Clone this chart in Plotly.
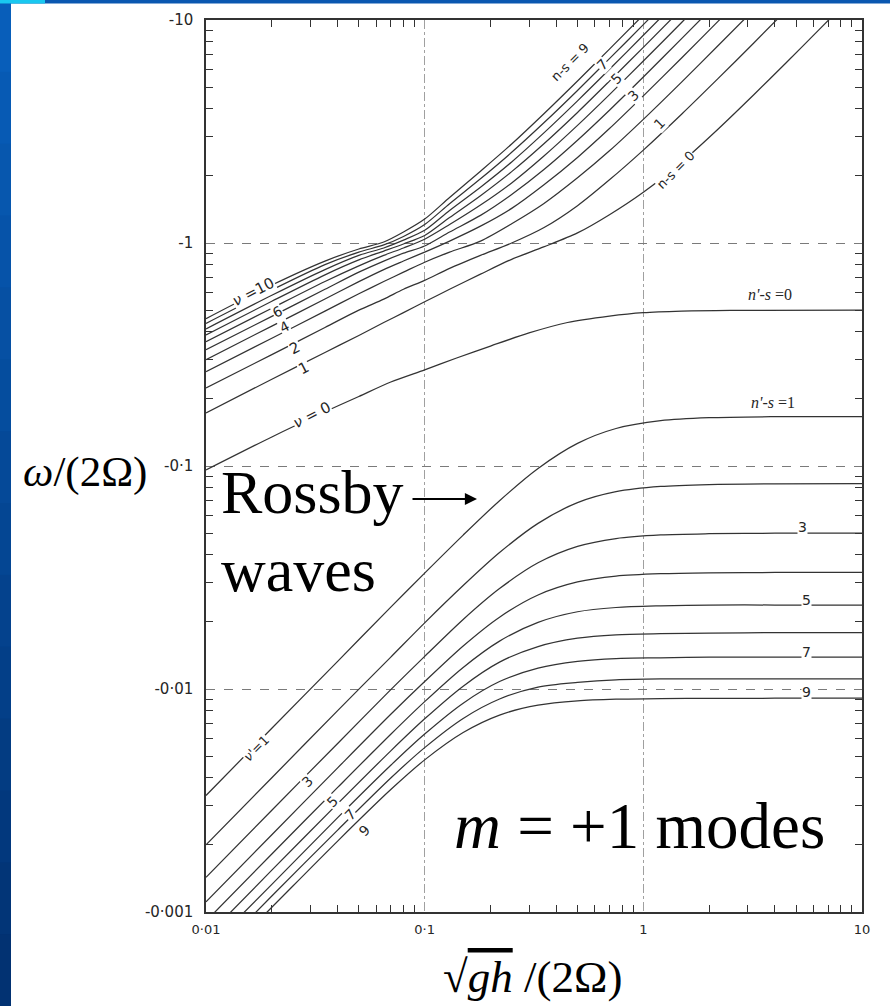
import plotly.graph_objects as go

# plot area in page pixels (used only to place text)
L, R, T, B = 206, 862, 20, 912


def fx(p):
    return (p - L) / (R - L)


def fy(p):
    return (B - p) / (B - T)


# --- gravity-wave branch, nu = 1..10 (|omega|) ---
x_grav = [0.01, 0.02, 0.035, 0.05, 0.065, 0.08, 0.1, 0.13, 0.18, 0.25,
          0.35, 0.5, 0.7, 1.0, 1.5, 2.2, 3.2, 4.5, 6.5, 10]
nu1 = [0.173, 0.245, 0.323, 0.385, 0.44, 0.487, 0.545, 0.62, 0.725, 0.845,
       0.96, 1.11, 1.34, 1.69, 2.31, 3.245, 4.62, 6.43, 9.24, 14.17]
nu2 = [0.224, 0.316, 0.418, 0.5, 0.56, 0.62, 0.68, 0.77, 0.88, 1.0,
       1.17, 1.47, 1.92, 2.61, 3.79, 5.47, 7.89, 11.06]
nu3 = [0.265, 0.374, 0.495, 0.592, 0.672, 0.74, 0.82, 0.91, 1.02, 1.22,
       1.5, 1.96, 2.59, 3.585, 5.28, 7.68, 11.12]
nu4 = [0.3, 0.424, 0.561, 0.671, 0.76, 0.83, 0.91, 1.02, 1.19, 1.43,
       1.82, 2.42, 3.26, 4.57, 6.77, 9.88, 14.3]
nu5 = [0.332, 0.469, 0.62, 0.74, 0.83, 0.9, 0.97, 1.12, 1.33, 1.65,
       2.13, 2.89, 3.94, 5.55, 8.27, 12.08]
nu6 = [0.361, 0.51, 0.672, 0.79, 0.88, 0.95, 1.04, 1.21, 1.48, 1.86,
       2.45, 3.37, 4.63, 6.55, 9.77, 14.3]
nu7 = [0.387, 0.548, 0.72, 0.84, 0.92, 0.99, 1.08, 1.3, 1.63, 2.09,
       2.78, 3.85, 5.32, 7.54, 11.26]
nu8 = [0.412, 0.583, 0.76, 0.88, 0.95, 1.03, 1.14, 1.4, 1.78, 2.31,
       3.11, 4.34, 6.01, 8.54, 12.76]
nu9 = [0.436, 0.616, 0.8, 0.91, 0.98, 1.07, 1.21, 1.5, 1.94, 2.55,
       3.45, 4.83, 6.71, 9.53, 14.3]
nu10 = [0.458, 0.648, 0.83, 0.94, 1.01, 1.12, 1.28, 1.6, 2.1, 2.78,
        3.79, 5.33, 7.4, 10.53]

# --- nu = 0 curve, ending on n'-s = 0 ---
x_nu0 = [0.01, 0.02, 0.035, 0.05, 0.07, 0.1, 0.14, 0.2, 0.3, 0.45,
         0.7, 1.0, 1.5, 2.5, 10]
nu0 = [0.096, 0.135, 0.175, 0.205, 0.238, 0.27, 0.305, 0.345, 0.395, 0.44,
       0.47, 0.487, 0.495, 0.499, 0.5]

# --- Rossby branch, nu' = 1..9 -> n'-s = 1..9 ---
x_ross = [0.01, 0.02, 0.04, 0.07, 0.1, 0.15, 0.22, 0.33, 0.5, 0.75,
          1.2, 2, 4, 10]
ross1 = [0.00333, 0.00667, 0.0133, 0.0233, 0.0331, 0.049, 0.0699, 0.0975,
         0.1263, 0.1473, 0.1597, 0.1647, 0.1664, 0.1667]
ross2 = [0.002, 0.004, 0.008, 0.0139, 0.0198, 0.0291, 0.0409, 0.0553,
         0.0685, 0.0767, 0.081, 0.0826, 0.0832, 0.0833]
ross3 = [0.00143, 0.00286, 0.0057, 0.00993, 0.014, 0.0205, 0.0282, 0.0368,
         0.0436, 0.0473, 0.0491, 0.0497, 0.04995, 0.05]
ross4 = [0.00111, 0.00222, 0.00443, 0.0077, 0.0108, 0.0156, 0.021, 0.0264,
         0.0302, 0.0321, 0.0329, 0.0332, 0.0333, 0.0333]
ross5 = [0.00091, 0.00182, 0.00362, 0.00627, 0.00878, 0.0125, 0.0164, 0.0199,
         0.0222, 0.0232, 0.0236, 0.0238, 0.0238, 0.0238]
ross6 = [0.00077, 0.00154, 0.00306, 0.00528, 0.00735, 0.0103, 0.0132, 0.0155,
         0.0169, 0.0175, 0.0177, 0.0178, 0.0179, 0.0179]
ross7 = [0.00067, 0.00133, 0.00265, 0.00455, 0.00628, 0.00864, 0.0108, 0.0124,
         0.0133, 0.0137, 0.0138, 0.0139, 0.0139, 0.0139]
ross8 = [0.00059, 0.00118, 0.00233, 0.00399, 0.00546, 0.00738, 0.00902, 0.0102,
         0.0107, 0.011, 0.0111, 0.0111, 0.0111, 0.0111]
ross9 = [0.00053, 0.00105, 0.00208, 0.00354, 0.00481, 0.00638, 0.00764, 0.00846,
         0.00885, 0.009, 0.00906, 0.00908, 0.00909, 0.00909]

x_ticks = [0.01, 0.1, 1, 10]
x_labels = ["0·01", "0·1", "1", "10"]
y_ticks = [10, 1, 0.1, 0.01, 0.001]
y_labels = ["-10", "-1", "-0·1", "-0·01", "-0·001"]

LINE = "#333333"
INK = "#262626"
SERIF = "Liberation Serif"

fig = go.Figure()


def curve(xs, ys):
    fig.add_trace(go.Scatter(x=xs[:len(ys)], y=ys, mode="lines",
                             line=dict(color=LINE, width=1.25, shape="spline", smoothing=0.8),
                             hoverinfo="skip", showlegend=False))


for ys in [nu1, nu2, nu3, nu4, nu5, nu6, nu7, nu8, nu9, nu10]:
    curve(x_grav, ys)
curve(x_nu0, nu0)
for ys in [ross1, ross2, ross3, ross4, ross5, ross6, ross7, ross8, ross9]:
    curve(x_ross, ys)

minor_x = [m * d for d in (0.01, 0.1, 1) for m in range(2, 10)]
minor_y = [m * d for d in (0.001, 0.01, 0.1, 1) for m in range(2, 10)]

fig.update_xaxes(type="log", range=[-2, 1], tickvals=x_ticks, ticktext=x_labels,
                 ticks="", showline=True, mirror="allticks", linecolor="#333", linewidth=1.5,
                 showgrid=True, gridcolor="#a0a0a0", griddash="dashdot", gridwidth=1,
                 zeroline=False, ticklabelstandoff=5,
                 tickfont=dict(family="DejaVu Sans", size=13, color=INK),
                 minor=dict(tickvals=minor_x, ticks="inside", ticklen=7, tickcolor="#333",
                            tickwidth=1.2, showgrid=False))
fig.update_yaxes(type="log", range=[-3, 1], tickvals=y_ticks, ticktext=y_labels,
                 ticks="", showline=True, mirror="allticks", linecolor="#333", linewidth=1.5,
                 showgrid=True, gridcolor="#7a7a7a", griddash="dash", gridwidth=1,
                 zeroline=False, ticklabelstandoff=8,
                 tickfont=dict(family="DejaVu Sans", size=15, color=INK),
                 minor=dict(tickvals=minor_y, ticks="inside", ticklen=7, tickcolor="#333",
                            tickwidth=1.2, showgrid=False))

ann = []


def label(text, px, py, angle=0, size=14, fam="DejaVu Sans", bg="white"):
    ann.append(dict(text=text, x=fx(px), y=fy(py), xref="paper", yref="paper",
                    xanchor="center", yanchor="middle",
                    showarrow=False, textangle=angle, bgcolor=bg, borderpad=0,
                    font=dict(family=fam, size=size, color=INK)))


# labels on the upper right curves
label("n-s = 9", 570, 63, -45, 13)
label("7", 602, 65, -45)
label("5", 616, 79, -45)
label("3", 633, 96, -45)
label("1", 659, 124, -45)
label("n-s = 0", 675, 170, -45, 13)
# left-hand gravity labels
label("<i>ν</i> =10", 253, 292, -27, 15)
label("6", 277, 312, -27, 14)
label("4", 284, 327, -27, 14)
label("2", 295, 348, -27, 15)
label("1", 304, 368, -27, 15)
label("<i>ν</i> = 0", 312, 415, -27, 15)
# lower-left Rossby labels
label("<i>ν</i>'=1", 256, 748, -45, 13)
label("3", 307, 782, -45)
label("5", 332, 802, -45)
label("7", 350, 815, -45)
label("9", 364, 831, -45, bg=None)
# right-hand asymptote labels
label("<i>n'-s</i> =0", 770, 295, 0, 16, SERIF, None)
label("<i>n'-s</i> =1", 773, 402, 0, 16, SERIF, None)
label("3", 802, 527)
label("5", 806, 600)
label("7", 806, 652)
label("9", 806, 692)

ann += [
    dict(text="Rossby", x=fx(219), y=fy(492), xref="paper", yref="paper",
         xanchor="left", yanchor="middle",
         showarrow=False, font=dict(family=SERIF, size=62, color="black")),
    dict(text="waves", x=fx(219), y=fy(570), xref="paper", yref="paper",
         xanchor="left", yanchor="middle",
         showarrow=False, font=dict(family=SERIF, size=62, color="black")),
    dict(text="", x=fx(477), y=fy(499), xref="paper", yref="paper", ax=-66, ay=0,
         showarrow=True, arrowhead=2, arrowsize=1.1, arrowwidth=2.2, arrowcolor="black"),
    dict(text="<i>m</i> = +1 modes", x=fx(452), y=fy(826), xref="paper", yref="paper",
         xanchor="left", yanchor="middle",
         showarrow=False, font=dict(family=SERIF, size=65, color="black")),
    dict(text="<i>ω</i>/(2Ω)", x=fx(85), y=fy(472), xref="paper", yref="paper",
         xanchor="center", yanchor="middle",
         showarrow=False, font=dict(family=SERIF, size=43, color="black")),
    dict(text="√<span style='text-decoration:overline'><i>gh</i></span> /(2Ω)",
         x=fx(532), y=fy(977), xref="paper", yref="paper",
         xanchor="center", yanchor="middle",
         showarrow=False, font=dict(family=SERIF, size=45, color="black")),
]

# blue slide frame: left stripe (stepped gradient) and top bar
shapes = []
n_steps = 14
step = 1006 / n_steps
for i in range(n_steps):
    t = i / (n_steps - 1)
    col = "rgb(%d,%d,%d)" % (int(8 - 6 * t), int(94 - 44 * t), int(186 - 72 * t))
    shapes.append(dict(type="rect", xref="paper", yref="paper", x0=fx(0), x1=fx(11),
                       y0=fy(step * (i + 1) + 2), y1=fy(step * i),
                       fillcolor=col, line=dict(width=0), layer="below"))
shapes.append(dict(type="rect", xref="paper", yref="paper", x0=fx(0), x1=fx(890),
                   y0=fy(3.5), y1=fy(0), fillcolor="#0a57b0", line=dict(width=0)))
shapes.append(dict(type="rect", xref="paper", yref="paper", x0=fx(0), x1=fx(45),
                   y0=fy(3.5), y1=fy(0), fillcolor="#19c8f0", line=dict(width=0)))

fig.update_layout(width=890, height=1006, margin=dict(l=L, r=890 - R, t=T, b=1006 - B),
                  paper_bgcolor="white", plot_bgcolor="white",
                  annotations=ann, shapes=shapes)

# drop the browser's default 8px body margin so the figure sits at the page corner
fig.write_html("out.html", config={"displayModeBar": False},
               post_script="document.body.style.margin='0px';")
